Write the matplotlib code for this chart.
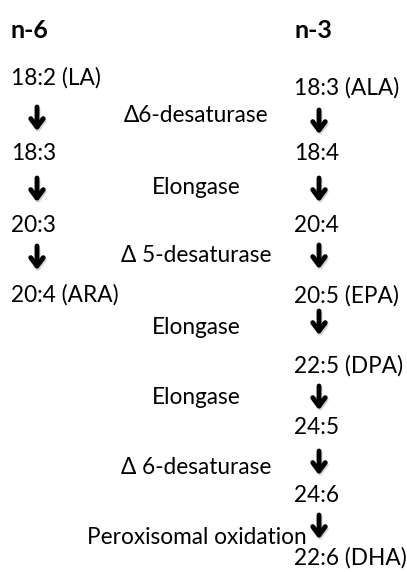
import matplotlib
matplotlib.use('Agg')
import matplotlib.pyplot as plt

# pathway labels
n6_steps = ['18:2 (LA)', '18:3', '20:3', '20:4 (ARA)']
n3_steps = ['18:3 (ALA)', '18:4', '20:4', '20:5 (EPA)', '22:5 (DPA)',
            '24:5', '24:6', '22:6 (DHA)']
enzymes = ['Δ6-desaturase', 'Elongase', 'Δ 5-desaturase', 'Elongase',
           'Elongase', 'Δ 6-desaturase', 'Peroxisomal oxidation']

# layout (pixel coords, y down)
n6_y = [78, 153, 225, 295]
n6_arrow_y = [119, 190, 258]
n3_y = [88, 153, 225, 296, 366, 427, 495, 558]
n3_arrow_y = [122, 190, 257, 323, 398, 463, 527]
enz_y = [115, 188, 255, 327, 397, 467, 538]

plt.rcParams['font.family'] = ['Lato', 'DejaVu Sans']
fs = 16.3

fig = plt.figure(figsize=(4.07, 5.72), dpi=100)
ax = fig.add_axes([0, 0, 1, 1])
ax.set_xlim(0, 407)
ax.set_ylim(572, 0)
ax.axis('off')

ax.text(11, 30, 'n-6', fontsize=18, fontweight='bold', va='center')
ax.text(294, 30, 'n-3', fontsize=18, fontweight='bold', va='center')

for lab, y in zip(n6_steps, n6_y):
    ax.text(11, y, lab, fontsize=fs, va='center')
for lab, y in zip(n3_steps, n3_y):
    ax.text(294, y, lab, fontsize=fs, va='center')

def arrow(x, y):
    # soft shadow then arrow
    style = '->, head_length=0.6, head_width=0.45'
    ax.annotate('', xy=(x + 1, y + 14), xytext=(x + 1, y - 10),
                arrowprops=dict(arrowstyle=style, lw=3.5, color='#d0d0d0',
                                shrinkA=0, shrinkB=0))
    ax.annotate('', xy=(x, y + 12), xytext=(x, y - 12),
                arrowprops=dict(arrowstyle=style, lw=3.5, color='black',
                                shrinkA=0, shrinkB=0))

for y in n6_arrow_y:
    arrow(37, y)
for y in n3_arrow_y:
    arrow(319, y)

for i, (lab, y) in enumerate(zip(enzymes, enz_y)):
    if i == len(enzymes) - 1:
        ax.text(307, y, lab, fontsize=fs, va='center', ha='right')
    else:
        ax.text(196, y, lab, fontsize=fs, va='center', ha='center')

fig.savefig('out.png', dpi=100)
